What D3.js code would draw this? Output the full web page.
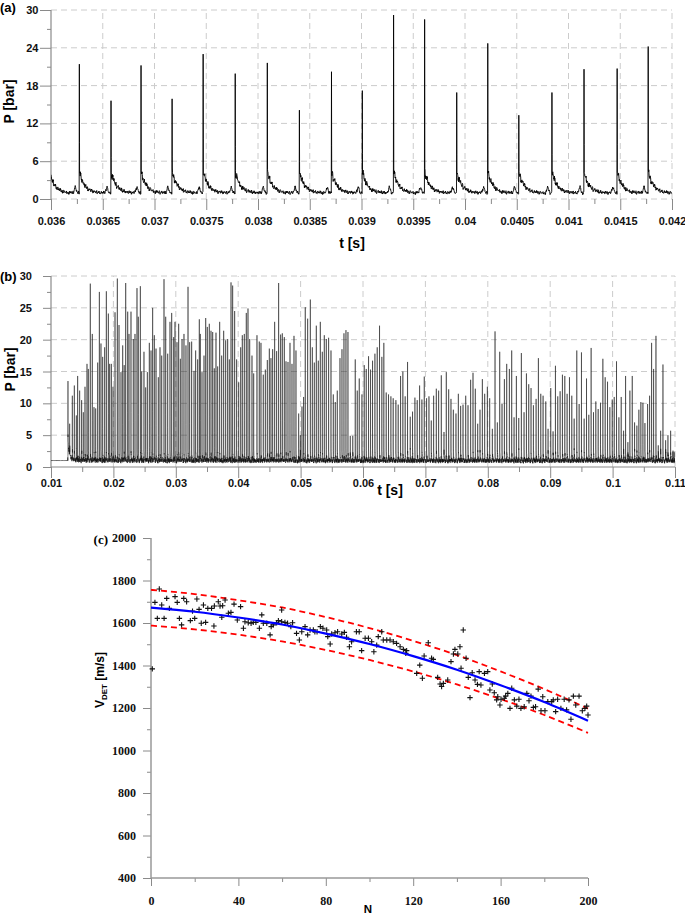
<!DOCTYPE html>
<html><head><meta charset="utf-8">
<script src="https://cdn.jsdelivr.net/npm/d3@7"></script>
<style>body{margin:0;background:#fff} svg{display:block}</style>
</head><body>
<svg id="chart" width="685" height="917"></svg>
<script>
// ---------------- DATA ----------------
// Panel (a): detonation pressure peaks (time in s, pressure in bar)
const aPeakTimes = [0.035985, 0.036274, 0.03658, 0.03687, 0.03717, 0.03747, 0.03778, 0.03809, 0.0384, 0.03871,
  0.039008, 0.03931, 0.03961, 0.03992, 0.04022, 0.04052, 0.04084, 0.04115, 0.04147, 0.04177];
const aPeakValues = [20.0, 21.4, 15.6, 21.2, 15.9, 23.0, 19.9, 21.6, 14.1, 20.2,
  17.2, 29.2, 28.5, 16.9, 24.7, 13.3, 16.9, 20.6, 20.7, 24.2];
const aXTicks = [0.036, 0.0365, 0.037, 0.0375, 0.038, 0.0385, 0.039, 0.0395, 0.04, 0.0405, 0.041, 0.0415, 0.042];
const aXLabels = ["0.036","0.0365","0.037","0.0375","0.038","0.0385","0.039","0.0395","0.04","0.0405","0.041","0.0415","0.042"];
const aYTicks = [0, 6, 12, 18, 24, 30];
const aYLabels = ["0","6","12","18","24","30"];

// Panel (b): peak times (ms) and peak pressures (bar)
const bPeakTimesMs = [12.72,12.99,13.42,13.74,14.06,14.27,14.59,14.91,15.18,15.45,15.77,15.98,16.30,16.62,16.89,17.16,17.48,17.75,18.01,18.28,
  18.60,18.87,19.19,19.40,19.67,19.94,20.26,20.63,20.90,21.22,21.49,21.73,21.97,22.29,22.50,22.82,23.19,23.46,23.78,23.99,
  24.32,24.53,24.90,25.17,25.44,25.76,26.03,26.29,26.56,26.83,27.20,27.47,27.74,28.11,28.38,28.70,29.07,29.34,29.66,29.87,
  30.19,30.46,30.73,31.00,31.31,31.63,31.96,32.22,32.54,32.92,33.18,33.50,33.77,33.93,34.20,34.52,34.79,35.05,35.37,35.64,
  35.91,36.17,36.44,36.71,37.03,37.35,37.67,37.99,38.31,38.58,38.85,39.11,39.43,39.75,40.08,40.40,40.66,40.98,41.30,41.57,
  41.84,42.21,42.48,
  43.01,43.38,43.65,44.02,44.35,44.67,44.99,45.25,45.52,45.84,46.16,46.48,46.80,47.07,47.39,47.66,47.98,48.30,48.62,48.94,
  49.26,49.69,49.96,50.22,50.48,50.75,51.13,51.56,51.88,52.20,52.52,52.84,53.16,53.48,53.80,54.12,54.49,54.87,55.24,55.56,
  55.88,56.31,56.63,56.95,57.27,57.59,57.96,58.36,58.76,59.08,59.40,59.83,60.20,60.52,60.89,61.21,61.53,61.91,62.28,62.65,
  63.02,63.34,63.72,64.09,64.47,64.84,65.27,65.64,66.02,66.39,66.76,67.14,67.57,67.94,68.32,68.69,69.07,69.44,69.82,70.19,
  70.57,70.94,71.32,71.75,72.12,72.55,72.98,73.35,73.73,74.10,74.48,74.90,75.28,75.65,76.03,
  76.46,76.83,77.25,77.63,78.00,78.38,78.75,79.13,79.50,79.93,80.30,80.73,81.16,81.53,81.91,82.28,82.66,83.03,83.46,83.83,
  84.21,84.58,84.96,85.38,85.81,86.19,86.56,86.93,87.31,87.74,88.11,88.49,88.86,89.29,89.66,90.09,90.46,90.84,91.21,91.59,
  91.96,92.34,92.71,93.09,93.46,93.84,94.26,94.64,95.01,95.44,95.82,96.19,96.56,96.94,97.31,97.69,98.06,98.44,98.81,99.19,
  99.56,99.94,100.26,100.63,101.01,101.38,101.76,102.08,102.45,102.77,103.15,103.52,103.89,104.21,104.53,104.86,105.18,105.61,105.93,106.25,
  106.57,106.95,107.32,107.70,108.07,108.50,108.87,109.30,109.67,109.99];
const bPeakValues = [13.5,6.8,11.2,12.8,8.1,14.3,12.0,10.5,8.6,12.6,16.2,15.4,28.8,20.9,9.4,9.2,16.4,27.5,19.4,17.3,
  18.8,27.6,24.1,16.2,16.2,12.6,24.3,29.6,22.3,14.9,19.1,16.0,28.9,24.4,20.9,24.4,20.1,20.9,28.1,23.6,
  28.4,15.0,18.1,12.5,14.9,19.5,18.3,25.0,20.7,18.6,14.1,18.8,17.5,29.5,23.6,17.8,22.8,24.2,20.4,22.8,
  19.6,22.5,17.0,20.1,20.9,19.1,28.3,19.6,19.7,15.1,18.3,16.9,23.2,20.9,14.9,17.5,23.4,22.0,22.5,21.4,
  21.2,15.5,21.1,15.8,22.8,17.5,21.4,19.9,20.1,16.9,29.0,28.5,24.5,16.9,13.3,18.8,20.7,20.9,24.2,24.9,
  20.1,17.5,14.7,
  20.7,19.7,19.5,14.5,15.3,16.8,18.6,17.1,18.5,22.8,18.2,28.9,20.8,21.0,20.4,16.6,16.5,19.5,16.2,20.6,
  18.3,8.4,5.0,9.5,11.0,25.1,23.3,26.3,18.8,16.4,22.2,16.7,22.8,18.1,20.7,20.1,20.3,18.3,11.4,10.2,
  12.0,17.1,18.5,21.0,21.5,21.2,4.9,4.9,16.9,12.0,13.9,11.4,16.0,15.4,17.4,15.3,16.7,17.8,18.8,22.2,
  17.3,19.5,11.7,11.4,11.1,10.8,10.5,9.8,14.3,15.0,11.1,16.5,7.9,8.7,10.9,10.5,12.8,10.6,14.2,10.8,
  11.1,7.3,11.2,12.3,12.0,14.4,5.5,14.9,12.2,10.7,9.0,8.4,11.5,9.6,9.8,
  11.2,9.7,13.7,14.8,12.3,6.8,9.0,13.8,11.5,12.6,10.8,6.0,21.3,7.0,18.1,9.9,13.8,16.2,15.4,18.3,
  7.8,14.3,7.7,17.9,8.6,14.7,13.0,12.4,9.7,10.7,17.1,11.5,11.2,10.3,6.0,12.4,5.6,15.9,11.1,11.9,
  14.5,14.3,11.5,14.1,11.2,7.6,18.3,9.9,18.0,7.6,13.9,8.2,18.7,8.6,10.3,9.1,10.1,17.0,14.1,13.4,
  9.4,10.6,11.0,16.6,7.8,11.0,5.7,14.3,3.9,12.0,14.3,7.0,6.5,9.0,10.2,10.1,6.9,9.9,11.2,19.5,
  15.4,20.6,3.4,5.7,16.1,4.2,5.0,5.7,2.4,2.4];
const bXTicks = [0.01,0.02,0.03,0.04,0.05,0.06,0.07,0.08,0.09,0.1,0.11];
const bXLabels = ["0.01","0.02","0.03","0.04","0.05","0.06","0.07","0.08","0.09","0.1","0.11"];
const bYTicks = [0,5,10,15,20,25,30];
const bYLabels = ["0","5","10","15","20","25","30"];

// Fixed baseline-noise texture (bar) for the pressure traces
const noiseTable = [0.31,-0.22,0.47,-0.64,0.12,0.58,-0.35,-0.71,0.26,0.05,-0.18,0.66,-0.42,0.21,-0.55,0.74,0.02,-0.27,0.39,-0.49,
  0.15,-0.83,0.53,-0.08,0.34,-0.38,0.69,-0.60,0.09,0.44,-0.30,0.51,-0.14,0.80,-0.67,0.07,0.62,-0.45,0.19,-0.11,
  0.28,-0.52,0.43,-0.20,0.57,-0.76,0.10,0.36,-0.33,0.65,-0.03,-0.58,0.24];

// Panel (c): detonation velocity vs cycle number
const cN = [0.6,1.8,3.8,2.9,6,4.9,7.2,8.4,11,12,13,14,15,16.3,18,19,20,21,22,23,24,25,26,27.7,28.8,29,30.8,31.6,32.8,33.9,
  32.4,35.4,36.6,38,39.5,41,42.3,43,44.5,45.8,46.8,48,49.6,50.7,51.4,53,54.5,55,56,57.5,58.3,59.8,59.8,61.3,62.5,64,64.8,66.6,67.9,69,
  70.5,71.7,72.8,74.3,75,76,77.5,78.7,80.4,80.9,82,82.7,84.2,85.4,87.3,88.5,89.5,90.8,91.8,94,95.3,96.4,98,
  99.5,101,102,103.3,104,105.6,106.3,107.9,109.4,110.9,112.4,114,115.5,117,116.6,121.6,123,124.2,125,126.9,
  128.4,129.2,131.2,132.3,133,133.8,135.8,137.3,138.4,139.1,140.4,141.4,142.9,141.9,144.2,145.2,146,147,148.3,149.4,
  150.2,151,152.6,154.1,155.1,156.2,157.1,158.2,158.7,159.7,160.2,161.7,162.3,163.3,164.3,165.1,166.3,167.4,168.4,169.3,
  170.8,172,173,173.9,175,176,177.2,178.5,179.3,180.3,181.6,183.4,184.1,185.2,186.1,187.6,189.1,190.2,191.3,192.2,
  193.3,194.4,195.9,197.4,198.6,199.4,200];
const cV = [1384,1697,1760,1622,1622,1685,1716,1669,1724,1697,1622,1591,1716,1700,1611,1656,1622,1713,1664,1599,
  1685,1603,1669,1669,1586,1680,1700,1680,1681,1708,1627,1646,1650,1689,1614,1677,1575,1606,1601,1599,
  1603,1603,1575,1638,1599,1599,1544,1583,1591,1601,1611,1661,1606,1603,1599,1583,1601,1551,1520,1559,
  1583,1544,1567,1567,1559,1559,1583,1575,1567,1536,1501,1548,1554,1559,1548,1556,1533,1488,1512,1559,
  1559,1470,1528,
  1528,1512,1465,1496,1536,1559,1520,1520,1520,1512,1504,1488,1476,1470,1457,1363,1402,1340,1445,1507,
  1434,1429,1344,1313,1301,1316,1332,1418,1454,1476,1454,1488,1567,1387,1434,1344,1249,1366,1332,1311,
  1371,1308,1363,1371,1285,1313,1272,1238,1253,1214,1241,1246,1256,1269,1198,1293,1238,1209,1241,1198,
  1206,1269,1234,1256,1203,1206,1289,1187,1253,1187,1230,1230,1238,1183,1241,1198,1241,1191,1238,1147,
  1256,1214,1256,1187,1198,1209,1167];
const fitN = [0,20,40,60,80,100,120,140,160,180,200];
const fitV = [1672,1653,1626,1593,1550,1501,1444,1380,1307,1228,1140];
const upperV = [1756,1736,1707,1673,1628,1576,1516,1449,1372,1289,1197];
const lowerV = [1588,1570,1545,1513,1473,1426,1372,1311,1242,1167,1083];
const cXTicks = [0,40,80,120,160,200];
const cXLabels = ["0","40","80","120","160","200"];
const cYTicks = [400,600,800,1000,1200,1400,1600,1800,2000];
const cYLabels = ["400","600","800","1000","1200","1400","1600","1800","2000"];

// ---------------- DRAWING ----------------
const SANS = "'Liberation Sans', Arial, sans-serif";
const SERIF = "'Liberation Serif', 'Times New Roman', serif";
const svg = d3.select('#chart');
const GRID = '#cccccc', AXIS = '#8a8a8a';

function noise(i, slow) {
  const n = noiseTable.length;
  const fast = (noiseTable[i % n] + 0.6 * noiseTable[(i * 17 + 5) % n]) / 1.6;
  const s = noiseTable[Math.floor(i / slow) % n];
  return 0.55 * fast + 0.65 * s;
}
function mids(a) { return d3.pairs(a).map(([p, q]) => (p + q) / 2); }

function trace(t0, t1, dt, peakT, peakV, o) {
  const nS = Math.round((t1 - t0) / dt);
  const ts = d3.range(nS + 1).map(i => t0 + i * dt);
  peakT.forEach(tp => { if (tp >= t0 && tp <= t1) ts.push(tp, tp + o.after); });
  ts.sort((a, b) => a - b);
  return ts.map((t, i) => {
    let v = o.base(t), env = 0, spike = null;
    for (let k = 0; k < peakT.length; k++) {
      const d = t - peakT[k];
      if (Math.abs(d) < 1e-11) spike = peakV[k];
      else if (d > 0 && Math.abs(d - o.after) < 1e-11) spike = o.afterFrac * peakV[k];
      else if (d > 0) { if (d < o.tau * 12) { const e = o.decayAmp * Math.exp(-d / o.tau); v += e; env += e; } }
      else if (d > -o.pre * 4) v += o.preAmp * Math.exp(-Math.pow((d + o.pre) / o.preW, 2));
    }
    if (spike !== null) return [t, spike];
    v += noise(i, o.slow) * (o.noiseAmp(t) + env * o.envNoise);
    return [t, Math.max(0, v)];
  });
}

function styleAxis(g, font, size) {
  g.select('.domain').remove();
  g.selectAll('.tick line').attr('stroke', AXIS).attr('stroke-width', 1);
  g.selectAll('.tick text').attr('font-family', font).attr('font-size', size).attr('font-weight', 'bold').attr('fill', '#111');
}

function pressurePanel(cfg) {
  const { x, y, xTicks, xLabels, yTicks, yLabels } = cfg;
  const g = svg.append('g');
  const [x0, x1] = x.range(), [y0, y1] = y.range();
  g.selectAll('line.hg').data(cfg.hGrid).join('line')
    .attr('x1', x0).attr('x2', x1).attr('y1', d => y(d)).attr('y2', d => y(d))
    .attr('stroke', GRID).attr('stroke-width', 1).attr('stroke-dasharray', '6,4');
  g.selectAll('line.vg').data(xTicks.slice(1)).join('line')
    .attr('x1', d => x(d)).attr('x2', d => x(d)).attr('y1', y0).attr('y2', y1)
    .attr('stroke', GRID).attr('stroke-width', 1).attr('stroke-dasharray', '6,4');
  const gy = g.append('g').attr('transform', `translate(${x0},0)`)
    .call(d3.axisLeft(y).tickValues(yTicks).tickSize(cfg.yTick).tickPadding(cfg.yPad).tickFormat((d, i) => yLabels[i]));
  styleAxis(gy, SANS, 11);
  const gym = g.append('g').attr('transform', `translate(${x0},0)`)
    .call(d3.axisLeft(y).tickValues(mids(yTicks)).tickSize(4).tickFormat(''));
  styleAxis(gym, SANS, 11);
  const gx = g.append('g').attr('transform', `translate(0,${y0})`)
    .call(d3.axisBottom(x).tickValues(xTicks).tickSize(11).tickPadding(cfg.xPad).tickFormat((d, i) => xLabels[i]));
  styleAxis(gx, SANS, 11);
  const gxm = g.append('g').attr('transform', `translate(0,${y0})`)
    .call(d3.axisBottom(x).tickValues(mids(xTicks)).tickSize(5).tickFormat(''));
  styleAxis(gxm, SANS, 11);
  g.append('line').attr('x1', x0).attr('x2', x0).attr('y1', y0).attr('y2', y1).attr('stroke', AXIS).attr('stroke-width', 1.2);
  if (cfg.solidX) g.append('line').attr('x1', x0).attr('x2', x1).attr('y1', y0).attr('y2', y0).attr('stroke', AXIS).attr('stroke-width', 1.2);
  const clipId = 'clip' + cfg.name;
  svg.append('clipPath').attr('id', clipId).append('rect')
    .attr('x', x0).attr('y', y1 - 2).attr('width', x1 - x0).attr('height', y0 - y1 + 2);
  const line = d3.line().x(d => x(d[0])).y(d => y(d[1]));
  g.append('path').attr('d', line(cfg.series)).attr('fill', 'none')
    .attr('stroke', cfg.color).attr('stroke-width', cfg.lw).attr('stroke-linejoin', 'miter').attr('clip-path', `url(#${clipId})`);
  g.append('text').attr('transform', `translate(${cfg.yLabelX},${(y0 + y1) / 2 + cfg.yLabelDy}) rotate(-90)`)
    .attr('text-anchor', 'middle').attr('font-family', SANS).attr('font-weight', 'bold').attr('font-size', 14).text('P [bar]');
  g.append('text').attr('x', cfg.tLabel[0]).attr('y', cfg.tLabel[1]).attr('text-anchor', 'middle')
    .attr('font-family', SANS).attr('font-weight', 'bold').attr('font-size', 14).text('t [s]');
  g.append('text').attr('x', 0).attr('y', cfg.tagY).attr('font-family', SANS).attr('font-weight', 'bold').attr('font-size', 13).text(cfg.tag);
}

// ---- Panel (a)
const xA = d3.scaleLinear().domain([0.036, 0.042]).range([51, 672]);
const yA = d3.scaleLinear().domain([0, 30]).range([199, 10]);
const seriesA = trace(0.036, 0.042, 0.000002, aPeakTimes, aPeakValues, {
  base: t => 0.95, after: 0.0000015, afterFrac: 0.42, decayAmp: 3.4, tau: 0.00005,
  pre: 0.00004, preW: 0.000012, preAmp: 0.9, noiseAmp: t => 0.38, envNoise: 0.2, slow: 4
});
pressurePanel({ name: 'A', x: xA, y: yA, xTicks: aXTicks, xLabels: aXLabels, yTicks: aYTicks, yLabels: aYLabels,
  hGrid: aYTicks, yTick: 11, yPad: 1.5, xPad: 7, series: seriesA, lw: 0.9, color: '#000',
  yLabelX: 14, yLabelDy: -3, tLabel: [352, 248], tag: '(a)', tagY: 12, solidX: false });

// ---- Panel (b)
const xB = d3.scaleLinear().domain([0.01, 0.11]).range([51, 675]);
const yB = d3.scaleLinear().domain([0, 30]).range([467, 276]);
const bPeakTimes = bPeakTimesMs.map(v => v / 1000);
const seriesB = trace(0.01, 0.11, 0.00001, bPeakTimes, bPeakValues, {
  base: t => t < 0.01272 ? 1.0 : 0.9 + (t < 0.0145 ? 2.6 * Math.exp(-(t - 0.01272) / 0.0003) : 0),
  after: 0.000005, afterFrac: 0.35, decayAmp: 2.0, tau: 0.00005,
  pre: 0.00004, preW: 0.000012, preAmp: 0.5, noiseAmp: t => t < 0.01272 ? 0.04 : 0.5, envNoise: 0.15, slow: 3
});
pressurePanel({ name: 'B', x: xB, y: yB, xTicks: bXTicks, xLabels: bXLabels, yTicks: bYTicks, yLabels: bYLabels,
  hGrid: bYTicks.slice(1), yTick: 8, yPad: 11, xPad: 1, series: seriesB, lw: 0.5, color: '#111',
  yLabelX: 15, yLabelDy: -2, tLabel: [390, 495], tag: '(b)', tagY: 281, solidX: true });

// ---- Panel (c)
const xC = d3.scaleLinear().domain([0, 200]).range([151, 588]);
const yC = d3.scaleLinear().domain([400, 2000]).range([878, 538]);
const gC = svg.append('g');
const gcy = gC.append('g').attr('transform', 'translate(151,0)')
  .call(d3.axisLeft(yC).tickValues(cYTicks).tickSize(8).tickPadding(7).tickFormat((d, i) => cYLabels[i]));
styleAxis(gcy, SERIF, 12);
const gcym = gC.append('g').attr('transform', 'translate(151,0)')
  .call(d3.axisLeft(yC).tickValues(mids(cYTicks)).tickSize(4).tickFormat(''));
styleAxis(gcym, SERIF, 12);
const gcx = gC.append('g').attr('transform', 'translate(0,878)')
  .call(d3.axisBottom(xC).tickValues(cXTicks).tickSize(8).tickPadding(10).tickFormat((d, i) => cXLabels[i]));
styleAxis(gcx, SERIF, 12);
const gcxm = gC.append('g').attr('transform', 'translate(0,878)')
  .call(d3.axisBottom(xC).tickValues(mids(cXTicks)).tickSize(4).tickFormat(''));
styleAxis(gcxm, SERIF, 12);
gC.append('line').attr('x1', 151).attr('x2', 151).attr('y1', yC(400)).attr('y2', yC(2000)).attr('stroke', '#999').attr('stroke-width', 1.5);
gC.append('line').attr('x1', xC(0)).attr('x2', xC(200)).attr('y1', 878).attr('y2', 878).attr('stroke', '#999').attr('stroke-width', 1.5);

const lineC = (vals) => d3.line().curve(d3.curveNatural).x((d, i) => xC(fitN[i])).y(d => yC(d))(vals);
gC.append('path').attr('d', lineC(upperV)).attr('fill', 'none').attr('stroke', '#ff0000').attr('stroke-width', 1.8).attr('stroke-dasharray', '6,4');
gC.append('path').attr('d', lineC(lowerV)).attr('fill', 'none').attr('stroke', '#ff0000').attr('stroke-width', 1.8).attr('stroke-dasharray', '6,4');
gC.selectAll('path.pt').data(cN).join('path')
  .attr('d', 'M-2.7,0H2.7M0,-2.7V2.7')
  .attr('transform', (d, i) => `translate(${xC(d)},${yC(cV[i])})`)
  .attr('stroke', '#111').attr('stroke-width', 1.1).attr('fill', 'none');
gC.append('path').attr('d', lineC(fitV)).attr('fill', 'none').attr('stroke', '#0000ff').attr('stroke-width', 2.2);

// labels (c)
gC.append('text').attr('x', 368).attr('y', 913).attr('text-anchor', 'middle')
  .attr('font-family', SANS).attr('font-weight', 'bold').attr('font-size', 11.5).text('N');
const vl = gC.append('text').attr('transform', 'translate(104,680) rotate(-90)').attr('text-anchor', 'middle')
  .attr('font-family', SANS).attr('font-weight', 'bold').attr('font-size', 12);
vl.append('tspan').text('V');
vl.append('tspan').attr('font-size', 8).attr('dy', 3).text('DET');
vl.append('tspan').attr('dy', -3).text(' [m/s]');
gC.append('text').attr('x', 108).attr('y', 544).attr('text-anchor', 'end')
  .attr('font-family', SERIF).attr('font-weight', 'bold').attr('font-size', 13).text('(c)');
</script>
</body></html>
